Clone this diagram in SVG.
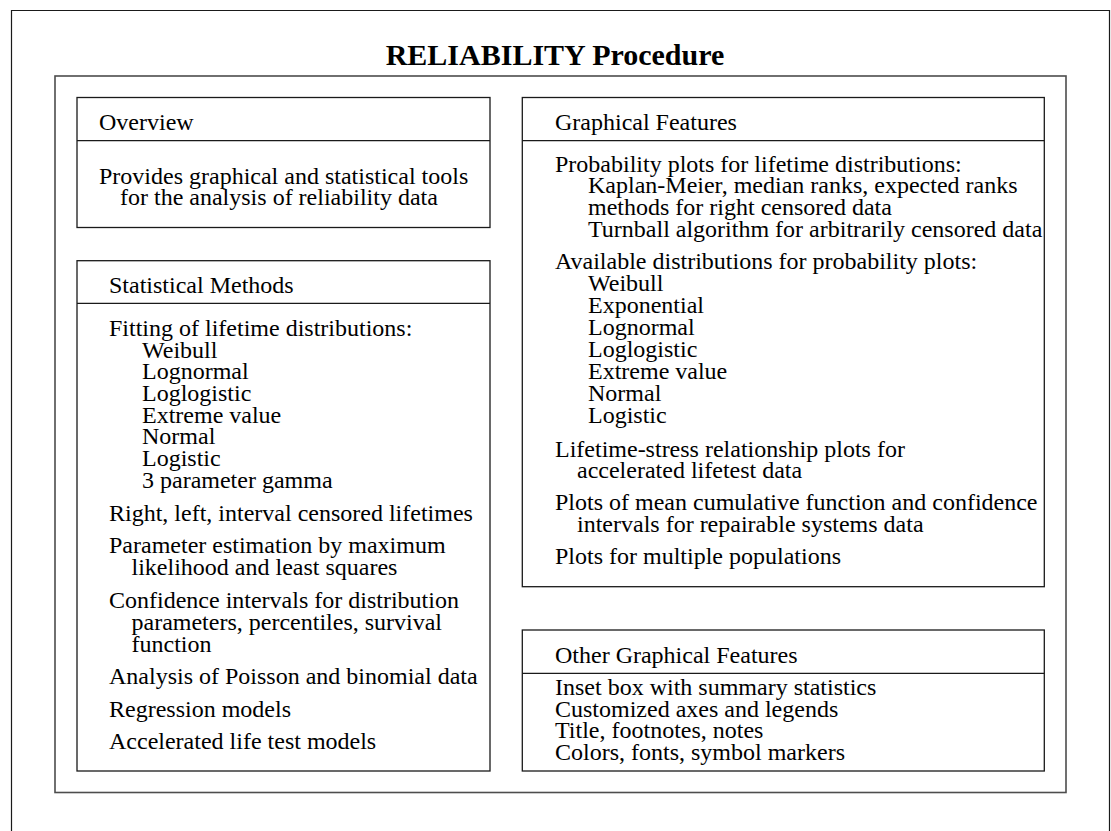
<svg xmlns="http://www.w3.org/2000/svg" width="1111" height="831" viewBox="0 0 1111 831">
  <style>
    .frame { fill: none; stroke: #1a1a1a; stroke-width: 1.2; }
    .panel { fill: none; stroke: #4d4d4d; stroke-width: 1.6; }
    .box { fill: #ffffff; stroke: #1a1a1a; stroke-width: 1.3; }
    .rule { stroke: #1a1a1a; stroke-width: 1.3; }
    .title { font-family: "Liberation Serif", "Times New Roman", serif; font-size: 30px; font-weight: bold; fill: #000; }
    .t { font-family: "Liberation Serif", "Times New Roman", serif; font-size: 24px; fill: #000; }
  </style>

  <rect width="1111" height="831" fill="#ffffff"/>

  <!-- outer page frame (bottom edge runs off the page) -->
  <path class="frame" d="M11.5,831 V10.5 H1109.5 V831"/>

  <text class="title" x="555" y="65" text-anchor="middle">RELIABILITY Procedure</text>

  <!-- inner panel -->
  <rect class="panel" x="55" y="76" width="1011" height="716.5"/>

  <g id="overview">
    <rect class="box" x="77" y="97.5" width="413" height="130"/>
    <line class="rule" x1="77" y1="140.7" x2="490" y2="140.7"/>
    <text class="t" x="99" y="129.5">Overview</text>
    <text class="t" x="99" y="183.5">Provides graphical and statistical tools</text>
    <text class="t" x="120" y="204.5">for the analysis of reliability data</text>
  </g>

  <g id="statistical-methods">
    <rect class="box" x="77" y="260.7" width="413" height="510.3"/>
    <line class="rule" x1="77" y1="303.3" x2="490" y2="303.3"/>
    <text class="t" x="109" y="292.7">Statistical Methods</text>
    <text class="t" x="109" y="336">Fitting of lifetime distributions:</text>
    <text class="t" x="142" y="357.5">Weibull</text>
    <text class="t" x="142" y="379.2">Lognormal</text>
    <text class="t" x="142" y="400.9">Loglogistic</text>
    <text class="t" x="142" y="422.6">Extreme value</text>
    <text class="t" x="142" y="444.3">Normal</text>
    <text class="t" x="142" y="466">Logistic</text>
    <text class="t" x="142" y="487.7">3 parameter gamma</text>
    <text class="t" x="109" y="520.7">Right, left, interval censored lifetimes</text>
    <text class="t" x="109" y="553.4">Parameter estimation by maximum</text>
    <text class="t" x="131.5" y="575">likelihood and least squares</text>
    <text class="t" x="109" y="608.3">Confidence intervals for distribution</text>
    <text class="t" x="131.5" y="630">parameters, percentiles, survival</text>
    <text class="t" x="131.5" y="651.7">function</text>
    <text class="t" x="109" y="684.2">Analysis of Poisson and binomial data</text>
    <text class="t" x="109" y="716.5">Regression models</text>
    <text class="t" x="109" y="749.3">Accelerated life test models</text>
  </g>

  <g id="graphical-features">
    <rect class="box" x="522.3" y="97.5" width="522" height="489.2"/>
    <line class="rule" x1="522.3" y1="140.7" x2="1044.3" y2="140.7"/>
    <text class="t" x="555" y="129.5">Graphical Features</text>
    <text class="t" x="555" y="171.7">Probability plots for lifetime distributions:</text>
    <text class="t" x="588" y="193.4">Kaplan-Meier, median ranks, expected ranks</text>
    <text class="t" x="588" y="215.1">methods for right censored data</text>
    <text class="t" x="588" y="236.8">Turnball algorithm for arbitrarily censored data</text>
    <text class="t" x="555" y="269.3">Available distributions for probability plots:</text>
    <text class="t" x="588" y="291.3">Weibull</text>
    <text class="t" x="588" y="313.3">Exponential</text>
    <text class="t" x="588" y="335.1">Lognormal</text>
    <text class="t" x="588" y="357">Loglogistic</text>
    <text class="t" x="588" y="379">Extreme value</text>
    <text class="t" x="588" y="401.2">Normal</text>
    <text class="t" x="588" y="423.2">Logistic</text>
    <text class="t" x="555" y="456.7">Lifetime-stress relationship plots for</text>
    <text class="t" x="577" y="478">accelerated lifetest data</text>
    <text class="t" x="555" y="510">Plots of mean cumulative function and confidence</text>
    <text class="t" x="577" y="531.7">intervals for repairable systems data</text>
    <text class="t" x="555" y="564.3">Plots for multiple populations</text>
  </g>

  <g id="other-graphical-features">
    <rect class="box" x="522.3" y="630" width="522" height="141"/>
    <line class="rule" x1="522.3" y1="673.3" x2="1044.3" y2="673.3"/>
    <text class="t" x="555" y="662.7">Other Graphical Features</text>
    <text class="t" x="555" y="695">Inset box with summary statistics</text>
    <text class="t" x="555" y="716.8">Customized axes and legends</text>
    <text class="t" x="555" y="738.4">Title, footnotes, notes</text>
    <text class="t" x="555" y="760">Colors, fonts, symbol markers</text>
  </g>

  <!-- no connectors in this layout -->
  <g id="connectors"/>
</svg>
